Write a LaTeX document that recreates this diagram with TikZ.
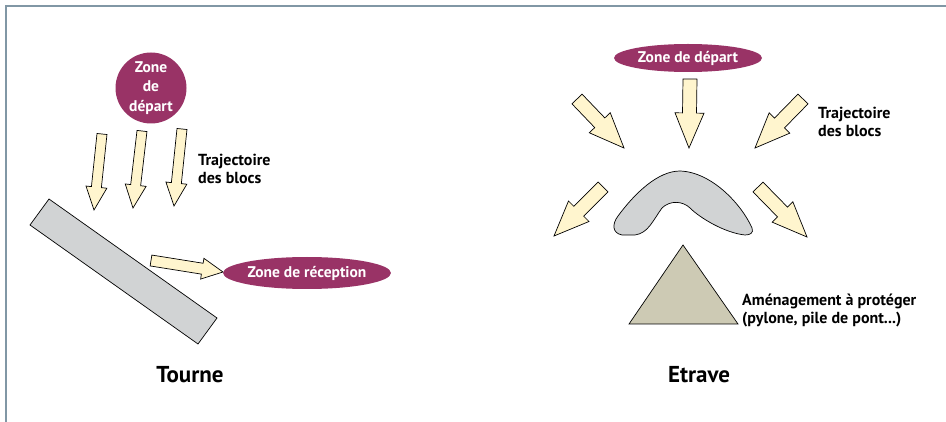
\documentclass[tikz,border=0pt]{standalone}
\usepackage{fontspec}
\setmainfont{PT Sans}
\usetikzlibrary{calc,shapes.geometric}
\definecolor{zone}{HTML}{993366}
\definecolor{cream}{HTML}{FFF5CE}
\definecolor{blockgray}{HTML}{D1D3D4}
\definecolor{khaki}{HTML}{CDCAB4}
\definecolor{framec}{HTML}{8197A5}
\newcommand{\barr}[5]{%
  \coordinate (bt) at #1; \coordinate (bp) at #2;
  \coordinate (bh) at ($(bp)!#5!(bt)$);
  \draw[blockarrow] ($(bt)!#3!90:(bp)$) -- ($(bh)!#3!-90:(bt)$) -- ($(bh)!#4!-90:(bt)$) -- (bp) -- ($(bh)!#4!90:(bt)$) -- ($(bh)!#3!90:(bt)$) -- ($(bt)!#3!-90:(bp)$) -- cycle;
}
\tikzset{
  blockarrow/.style={draw=black, fill=cream, line width=0.7pt, line join=miter},
  zonebox/.style={fill=zone, text=white, font=\bfseries\fontsize{15.5}{19.5}\selectfont, inner sep=0pt, align=center},
  label/.style={font=\bfseries\fontsize{16}{18.5}\selectfont, align=left, anchor=west, inner sep=0pt},
  title/.style={font=\bfseries\fontsize{23}{26}\selectfont, inner sep=0pt},
  solid/.style={draw=black, line width=0.7pt},
}
\begin{document}
\begin{tikzpicture}[x=1pt,y=-1pt]
\useasboundingbox (0,0) rectangle (946,422);
\draw[framec, line width=1.5pt] (6,422) -- (6,6) -- (946,6);

% ---- Tourne ----
\node[zonebox, circle, minimum size=71pt] (zd1) at (151,88) {Zone\\de\\départ};
\barr{(102,134)}{(94,210)}{5pt}{10.5pt}{23pt}
\barr{(142,131)}{(133,208)}{5pt}{10.5pt}{23pt}
\barr{(182,129)}{(174,206)}{5pt}{10.5pt}{23pt}
\node[label] (tr1) at (198,169) {Trajectoire\\des blocs};
\draw[solid, fill=blockgray] (49,199) -- (217,318) -- (198,344) -- (30,225) -- cycle;
\barr{(151,260.5)}{(223,272)}{5.5pt}{10.5pt}{21pt}
\node[zonebox, ellipse, minimum width=160pt, minimum height=32pt] (zr) at (307,273) {Zone de réception};
\node[title] (tourne) at (190,375) {Tourne};

% ---- Etrave ----
\node[zonebox, ellipse, minimum width=148pt, minimum height=28pt] (zd2) at (688,58) {Zone de départ};
\barr{(690,79)}{(689,148)}{7pt}{14.5pt}{35pt}
\barr{(577,99)}{(624,148)}{7pt}{14.5pt}{35pt}
\barr{(803,99)}{(755,148)}{7pt}{14.5pt}{35pt}
\barr{(603,187)}{(554,236)}{7pt}{14.5pt}{35pt}
\barr{(758,187)}{(807,237)}{7pt}{14.5pt}{35pt}
\node[label] (tr2) at (818,122) {Trajectoire\\des blocs};
\draw[solid, fill=blockgray] (622,235)
  .. controls (612,233) and (612,224) .. (618,216)
  .. controls (635,193) and (658,171) .. (680,171)
  .. controls (712,172) and (742,205) .. (752,228)
  .. controls (754,233) and (750,235) .. (745,235)
  .. controls (725,233) and (700,218) .. (690,208)
  .. controls (683,201) and (670,200) .. (662,208)
  .. controls (652,222) and (648,233) .. (635,235)
  -- cycle;
\draw[solid, fill=khaki] (683,245) -- (738,324) -- (629,324) -- cycle;
\node[label] (amen) at (742,310.5) {Aménagement à protéger\\(pylone, pile de pont...)};
\node[title] (etrave) at (699,375) {Etrave};
\end{tikzpicture}
\end{document}
